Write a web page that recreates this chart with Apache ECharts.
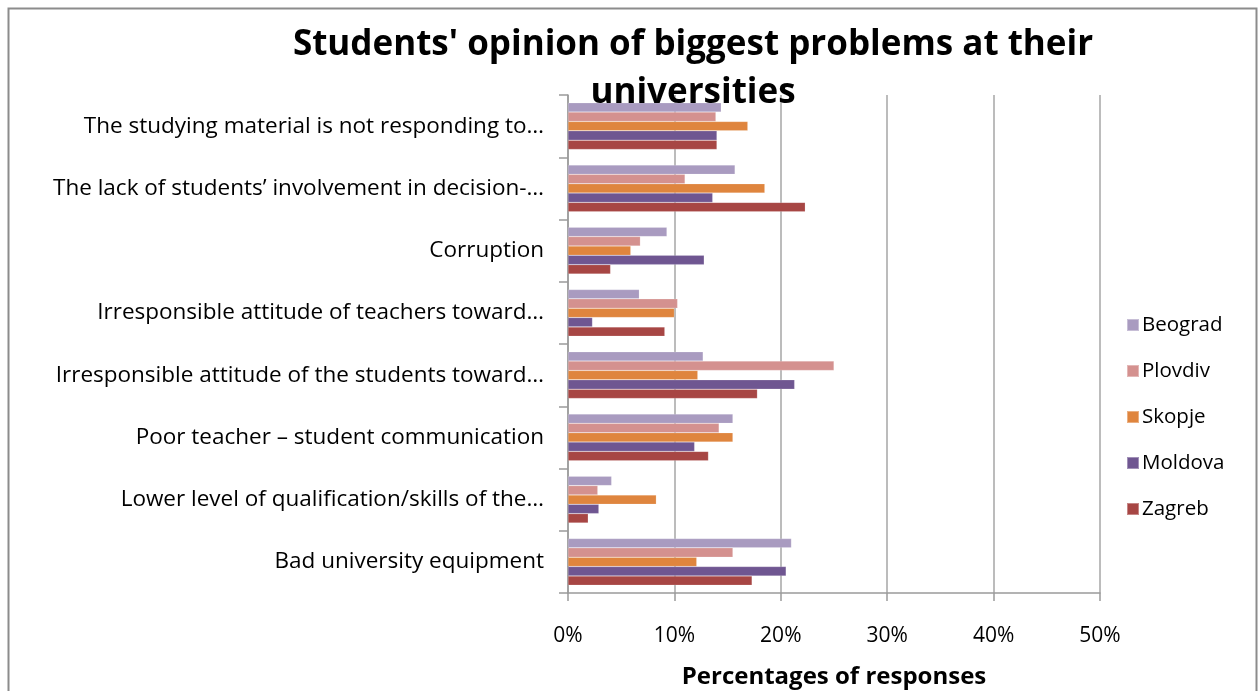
<!DOCTYPE html>
<html>
<head>
<meta charset="utf-8">
<script src="https://cdn.jsdelivr.net/npm/echarts@6/dist/echarts.min.js"></script>
<style>
  html, body { margin: 0; padding: 0; background: #fff; }
  #chart { width: 1258px; height: 691px; }
</style>
</head>
<body>
<div id="chart"></div>
<script>
// Problem categories, listed bottom to top as the category axis draws them
const categories = [
  'Bad university equipment',
  'Lower level of qualification/skills of the…',
  'Poor teacher – student communication',
  'Irresponsible attitude of the students toward…',
  'Irresponsible attitude of teachers toward…',
  'Corruption',
  'The lack of students’ involvement in decision-…',
  'The studying material is not responding to…'
];

// Share of responses (%) per city, same category order
const beograd = [21.0, 4.1, 15.5, 12.7, 6.7, 9.3, 15.7, 14.4];
const plovdiv = [15.5, 2.8, 14.2, 25.0, 10.3, 6.8, 11.0, 13.9];
const skopje  = [12.1, 8.3, 15.5, 12.2, 10.0, 5.9, 18.5, 16.9];
const moldova = [20.5, 2.9, 11.9, 21.3, 2.3, 12.8, 13.6, 14.0];
const zagreb  = [17.3, 1.9, 13.2, 17.8, 9.1, 4.0, 22.3, 14.0];

const xTicks = [0, 10, 20, 30, 40, 50];

const FONT = 'Open Sans';

const cities = [
  { name: 'Beograd', data: beograd, color: '#A99BC0' },
  { name: 'Plovdiv', data: plovdiv, color: '#D4918F' },
  { name: 'Skopje',  data: skopje,  color: '#DF853E' },
  { name: 'Moldova', data: moldova, color: '#6F5691' },
  { name: 'Zagreb',  data: zagreb,  color: '#A74644' }
];

const chart = echarts.init(document.getElementById('chart'), null, { renderer: 'canvas' });

chart.setOption({
  animation: false,
  backgroundColor: '#fff',
  textStyle: { fontFamily: FONT },
  title: {
    text: "Students' opinion of biggest problems at their\nuniversities",
    left: 688,
    textAlign: 'center',
    top: 16,
    textStyle: { fontFamily: FONT, fontWeight: 'bold', fontSize: 35, color: '#000', lineHeight: 48 }
  },
  legend: {
    orient: 'vertical',
    left: 1121,
    top: 307,
    itemWidth: 12,
    itemHeight: 12,
    itemGap: 20,
    icon: 'rect',
    data: cities.map(c => c.name),
    textStyle: { fontFamily: FONT, fontSize: 20.5, lineHeight: 26, color: '#000', padding: [0, 0, 0, -2] }
  },
  grid: {
    left: 568, right: 158, top: 95, bottom: 98,
    containLabel: false,
    outerBoundsMode: 'none'
  },
  xAxis: {
    type: 'value',
    min: xTicks[0],
    max: xTicks[xTicks.length - 1],
    interval: 10,
    name: 'Percentages of responses',
    nameLocation: 'middle',
    nameGap: 72,
    nameTextStyle: { fontFamily: FONT, fontWeight: 'bold', fontSize: 24, color: '#000' },
    axisLine: { show: true, lineStyle: { color: '#9a9a9a', width: 1.5 } },
    axisTick: { show: true, length: 8, inside: false, lineStyle: { color: '#9a9a9a', width: 1.5 } },
    axisLabel: { formatter: '{value}%', margin: 33, fontFamily: FONT, fontSize: 21, color: '#000' },
    splitLine: { show: true, lineStyle: { color: '#a6a6a6', width: 1.5 } }
  },
  yAxis: {
    type: 'category',
    data: categories,
    axisLine: { show: true, lineStyle: { color: '#9a9a9a', width: 1.5 } },
    axisTick: { show: true, length: 9, alignWithLabel: false, lineStyle: { color: '#9a9a9a', width: 1.5 } },
    axisLabel: { margin: 24, fontFamily: FONT, fontSize: 22.5, color: '#000' },
    splitLine: { show: false }
  },
  series: cities.map(c => ({
    name: c.name,
    type: 'bar',
    data: c.data,
    barGap: '0%',
    barCategoryGap: '25%',
    itemStyle: { color: c.color, borderColor: 'rgba(255,255,255,0.35)', borderWidth: 0.5 }
  })),
  graphic: [{
    type: 'rect',
    shape: { x: 8.5, y: 8.5, width: 1248, height: 700 },
    style: { fill: 'none', stroke: '#8c8c8c', lineWidth: 2 },
    silent: true,
    z: 100
  }]
});
</script>
</body>
</html>
